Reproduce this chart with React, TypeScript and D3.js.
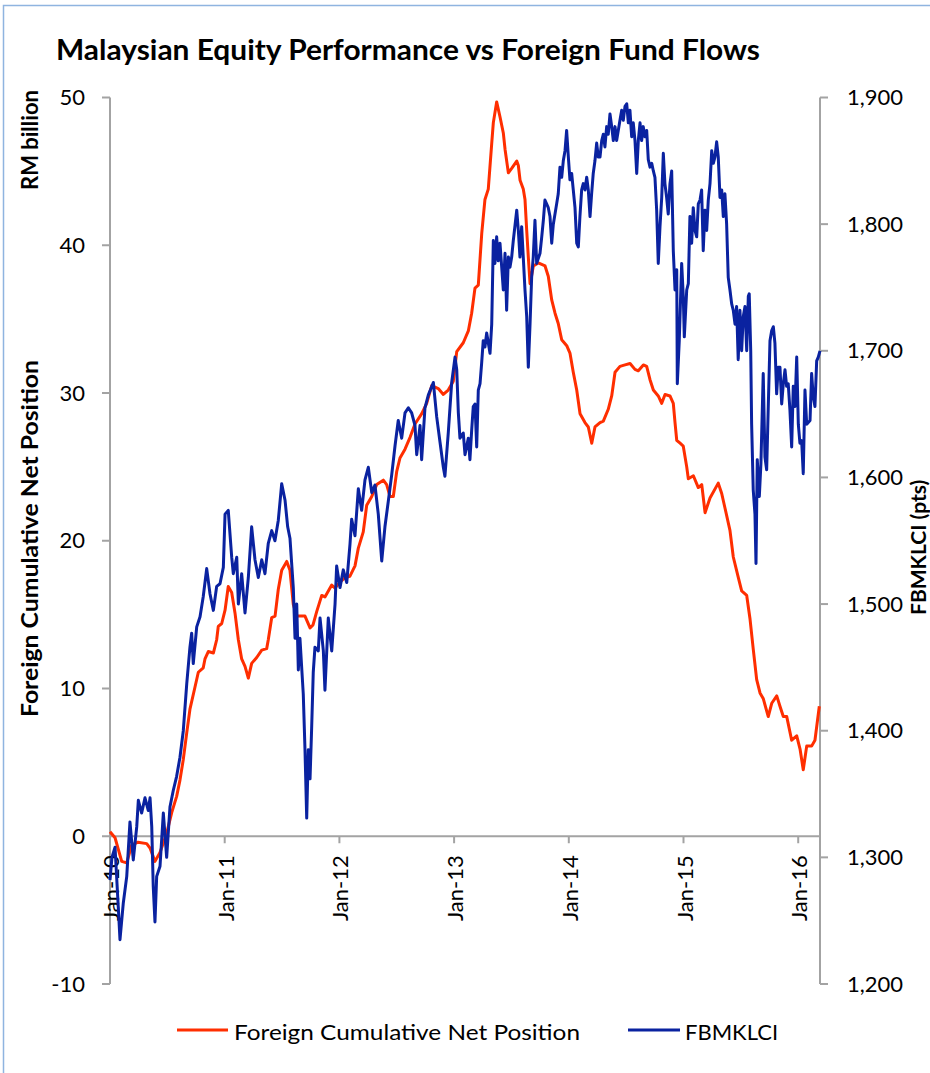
import React from "react";
import * as d3 from "d3";

// ---------- text ----------
const chartTitle = "Malaysian Equity Performance vs Foreign Fund Flows";
const leftTitleMain = "Foreign Cumulative Net Position";
const leftTitleUnit = "RM billion";
const rightTitle = "FBMKLCI (pts)";
const redName = "Foreign Cumulative Net Position";
const blueName = "FBMKLCI";

// ---------- axes ----------
const leftTicks = [-10, 0, 10, 20, 30, 40, 50];
const rightTicks = [1200, 1300, 1400, 1500, 1600, 1700, 1800, 1900];
const yearTicks = [2010, 2011, 2012, 2013, 2014, 2015, 2016];
const xDomain = [2010, 2016.19];

// ---------- data: [decimal year, RM billion] ----------
const flow2010 = [[2010.000,0.3],[2010.044,-0.1],[2010.102,-1.7],[2010.146,-1.8],[2010.189,-0.6],[2010.244,-0.4],[2010.320,-0.5],[2010.349,-0.8],[2010.392,-1.7],[2010.436,-1.1],[2010.494,0.2],[2010.538,1.6],[2010.581,2.7],[2010.610,3.8],[2010.639,5.2],[2010.669,7.0],[2010.697,8.6],[2010.741,10.1],[2010.770,11.1],[2010.813,11.4],[2010.828,12.0],[2010.857,12.5],[2010.901,12.4],[2010.930,13.3],[2010.944,14.2],[2010.974,14.4]];
const flow2011 = [[2011.003,15.3],[2011.031,16.9],[2011.061,16.5],[2011.090,15.1],[2011.119,13.3],[2011.148,12.0],[2011.177,11.5],[2011.206,10.7],[2011.235,11.7],[2011.279,12.1],[2011.323,12.6],[2011.366,12.7],[2011.380,13.3],[2011.410,14.8],[2011.439,14.9],[2011.467,16.7],[2011.497,18.0],[2011.541,18.6],[2011.569,18.0],[2011.598,15.7],[2011.628,14.9],[2011.700,14.9],[2011.744,14.1],[2011.770,14.3],[2011.802,15.2],[2011.846,16.3],[2011.874,16.2],[2011.933,17.0],[2011.962,16.8]];
const flow2012 = [[2012.005,17.2],[2012.049,17.5],[2012.092,17.6],[2012.136,18.3],[2012.165,19.5],[2012.208,20.6],[2012.238,22.4],[2012.282,23.0],[2012.325,23.8],[2012.383,24.1],[2012.412,23.8],[2012.441,23.0],[2012.470,23.0],[2012.500,24.7],[2012.528,25.6],[2012.572,26.2],[2012.616,27.0],[2012.659,27.9],[2012.718,28.6],[2012.761,29.3],[2012.805,30.5],[2012.862,30.3],[2012.906,29.9],[2012.949,30.2],[2012.993,30.8]];
const flow2013 = [[2013.023,32.8],[2013.080,33.4],[2013.124,34.2],[2013.153,35.4],[2013.182,37.1],[2013.211,37.3],[2013.241,40.8],[2013.269,43.1],[2013.298,43.8],[2013.328,46.9],[2013.342,48.3],[2013.371,49.7],[2013.400,48.7],[2013.429,47.6],[2013.444,46.5],[2013.473,44.9],[2013.502,45.2],[2013.546,45.7],[2013.560,45.4],[2013.575,44.4],[2013.603,43.8],[2013.618,43.1],[2013.633,41.0],[2013.647,39.2],[2013.662,37.4],[2013.691,38.6],[2013.734,38.8],[2013.793,38.6],[2013.821,37.9],[2013.851,36.3],[2013.880,35.4],[2013.908,34.7],[2013.938,33.6],[2013.982,33.2]];
const flow2014 = [[2014.010,32.7],[2014.039,31.4],[2014.069,30.2],[2014.098,28.6],[2014.141,28.0],[2014.170,27.7],[2014.200,26.6],[2014.228,27.7],[2014.272,28.0],[2014.301,28.1],[2014.344,28.9],[2014.374,29.8],[2014.403,31.4],[2014.446,31.8],[2014.490,31.9],[2014.534,32.0],[2014.577,31.6],[2014.606,31.5],[2014.650,31.9],[2014.679,31.8],[2014.708,30.9],[2014.737,30.2],[2014.780,29.8],[2014.810,29.3],[2014.839,29.9],[2014.882,29.8],[2014.911,29.3],[2014.926,28.0],[2014.941,26.8],[2014.970,26.6],[2014.998,26.4]];
const flow2015 = [[2015.028,25.0],[2015.042,24.2],[2015.086,24.4],[2015.129,23.6],[2015.159,23.8],[2015.188,21.9],[2015.231,22.9],[2015.303,23.9],[2015.333,23.2],[2015.362,22.2],[2015.405,20.7],[2015.434,18.9],[2015.478,17.5],[2015.507,16.6],[2015.551,16.3],[2015.580,14.7],[2015.609,12.6],[2015.638,10.6],[2015.667,9.7],[2015.696,9.3],[2015.739,8.1],[2015.769,9.0],[2015.813,9.5],[2015.841,8.8],[2015.870,8.1],[2015.900,8.1],[2015.943,6.5],[2015.987,6.8]];
const flow2016 = [[2016.016,5.9],[2016.044,4.5],[2016.074,6.1],[2016.117,6.1],[2016.146,6.5],[2016.184,8.8]];

// ---------- data: [decimal year, FBMKLCI pts] ----------
const klci2010 = [[2010.000,1282],[2010.017,1300],[2010.044,1308],[2010.072,1261],[2010.087,1235],[2010.116,1264],[2010.146,1285],[2010.174,1328],[2010.203,1298],[2010.233,1324],[2010.247,1345],[2010.276,1335],[2010.305,1347],[2010.334,1337],[2010.349,1347],[2010.364,1324],[2010.377,1277],[2010.392,1249],[2010.407,1285],[2010.436,1293],[2010.465,1335],[2010.494,1300],[2010.523,1340],[2010.552,1353],[2010.581,1364],[2010.610,1379],[2010.639,1400],[2010.669,1437],[2010.697,1466],[2010.712,1477],[2010.726,1453],[2010.756,1482],[2010.785,1490],[2010.813,1506],[2010.843,1528],[2010.872,1508],[2010.901,1495],[2010.930,1514],[2010.959,1516],[2010.988,1529]];
const klci2011 = [[2011.003,1571],[2011.031,1574],[2011.061,1537],[2011.075,1524],[2011.105,1537],[2011.119,1500],[2011.148,1524],[2011.177,1493],[2011.206,1521],[2011.235,1561],[2011.264,1535],[2011.293,1521],[2011.323,1535],[2011.351,1524],[2011.380,1548],[2011.410,1558],[2011.438,1550],[2011.467,1566],[2011.497,1595],[2011.526,1582],[2011.549,1561],[2011.569,1552],[2011.598,1513],[2011.613,1473],[2011.628,1500],[2011.642,1448],[2011.656,1473],[2011.685,1429],[2011.700,1385],[2011.715,1331],[2011.729,1385],[2011.744,1362],[2011.758,1402],[2011.772,1446],[2011.787,1466],[2011.816,1463],[2011.831,1489],[2011.860,1463],[2011.874,1432],[2011.903,1489],[2011.933,1463],[2011.962,1500],[2011.976,1530]];
const klci2012 = [[2012.005,1513],[2012.034,1527],[2012.064,1517],[2012.092,1547],[2012.107,1567],[2012.136,1554],[2012.165,1591],[2012.194,1574],[2012.223,1598],[2012.252,1608],[2012.282,1588],[2012.310,1594],[2012.339,1571],[2012.369,1534],[2012.397,1561],[2012.426,1581],[2012.456,1602],[2012.485,1625],[2012.513,1645],[2012.543,1631],[2012.572,1651],[2012.601,1655],[2012.630,1651],[2012.659,1641],[2012.674,1618],[2012.703,1641],[2012.717,1614],[2012.746,1655],[2012.775,1665],[2012.819,1675],[2012.848,1648],[2012.877,1628],[2012.906,1608],[2012.920,1601],[2012.949,1635],[2012.979,1675]];
const klci2013 = [[2013.008,1695],[2013.023,1685],[2013.037,1651],[2013.051,1631],[2013.080,1635],[2013.095,1618],[2013.124,1631],[2013.138,1614],[2013.153,1637],[2013.167,1656],[2013.182,1658],[2013.197,1624],[2013.211,1669],[2013.226,1674],[2013.240,1690],[2013.254,1708],[2013.269,1703],[2013.284,1714],[2013.313,1698],[2013.328,1721],[2013.342,1787],[2013.356,1769],[2013.371,1790],[2013.385,1771],[2013.400,1785],[2013.415,1766],[2013.429,1748],[2013.444,1777],[2013.458,1732],[2013.473,1774],[2013.487,1766],[2013.502,1774],[2013.516,1787],[2013.546,1811],[2013.560,1795],[2013.574,1774],[2013.589,1798],[2013.603,1774],[2013.618,1748],[2013.633,1727],[2013.647,1687],[2013.662,1721],[2013.676,1758],[2013.690,1774],[2013.705,1803],[2013.720,1769],[2013.749,1777],[2013.764,1790],[2013.778,1803],[2013.792,1819],[2013.821,1813],[2013.836,1806],[2013.851,1785],[2013.865,1800],[2013.894,1816],[2013.908,1824],[2013.923,1845],[2013.938,1837],[2013.952,1850],[2013.967,1858],[2013.981,1874],[2013.996,1853]];
const klci2014 = [[2014.010,1835],[2014.025,1840],[2014.039,1827],[2014.054,1813],[2014.069,1785],[2014.083,1782],[2014.097,1806],[2014.112,1827],[2014.126,1832],[2014.141,1827],[2014.156,1837],[2014.170,1827],[2014.185,1806],[2014.199,1824],[2014.213,1840],[2014.228,1850],[2014.243,1864],[2014.257,1853],[2014.272,1853],[2014.287,1866],[2014.301,1871],[2014.315,1861],[2014.330,1877],[2014.344,1871],[2014.359,1887],[2014.374,1877],[2014.388,1866],[2014.403,1877],[2014.417,1866],[2014.446,1882],[2014.461,1890],[2014.475,1882],[2014.490,1893],[2014.505,1895],[2014.519,1880],[2014.533,1890],[2014.548,1869],[2014.562,1880],[2014.577,1866],[2014.592,1840],[2014.606,1866],[2014.621,1880],[2014.635,1866],[2014.649,1877],[2014.664,1869],[2014.679,1874],[2014.693,1851],[2014.708,1845],[2014.723,1848],[2014.737,1842],[2014.751,1837],[2014.766,1811],[2014.780,1769],[2014.795,1798],[2014.810,1821],[2014.824,1856],[2014.838,1832],[2014.853,1821],[2014.867,1808],[2014.882,1832],[2014.897,1842],[2014.911,1779],[2014.926,1748],[2014.941,1764],[2014.946,1674],[2014.963,1708],[2014.984,1769],[2014.998,1743]];
const klci2015 = [[2015.007,1711],[2015.028,1748],[2015.042,1753],[2015.056,1806],[2015.071,1785],[2015.085,1813],[2015.100,1795],[2015.115,1790],[2015.129,1816],[2015.144,1819],[2015.158,1827],[2015.172,1779],[2015.187,1811],[2015.202,1795],[2015.216,1819],[2015.231,1832],[2015.246,1858],[2015.260,1848],[2015.274,1853],[2015.289,1865],[2015.303,1853],[2015.318,1821],[2015.333,1827],[2015.347,1806],[2015.361,1824],[2015.376,1800],[2015.390,1758],[2015.405,1748],[2015.420,1737],[2015.434,1732],[2015.449,1721],[2015.463,1735],[2015.477,1693],[2015.492,1732],[2015.507,1700],[2015.521,1727],[2015.536,1735],[2015.551,1700],[2015.565,1743],[2015.573,1745],[2015.586,1700],[2015.594,1642],[2015.608,1590],[2015.623,1571],[2015.632,1532],[2015.643,1614],[2015.661,1585],[2015.675,1611],[2015.695,1682],[2015.710,1616],[2015.725,1606],[2015.739,1656],[2015.754,1708],[2015.769,1716],[2015.783,1719],[2015.797,1706],[2015.812,1666],[2015.826,1687],[2015.841,1687],[2015.856,1658],[2015.870,1674],[2015.885,1685],[2015.899,1672],[2015.913,1674],[2015.928,1653],[2015.943,1624],[2015.957,1672],[2015.972,1656],[2015.987,1695]];
const klci2016 = [[2016.001,1642],[2016.015,1627],[2016.030,1629],[2016.044,1603],[2016.059,1669],[2016.074,1642],[2016.103,1645],[2016.117,1682],[2016.131,1664],[2016.146,1656],[2016.161,1692],[2016.175,1695],[2016.190,1700]];

const flowSeries = [...flow2010, ...flow2011, ...flow2012, ...flow2013, ...flow2014, ...flow2015, ...flow2016];
const klciSeries = [...klci2010, ...klci2011, ...klci2012, ...klci2013, ...klci2014, ...klci2015, ...klci2016];

// ---------- style ----------
const RED = "#ff2e00";
const BLUE = "#0a22a0";
const AXIS = "#a3a3a3";
const FONT = "Lato, 'Open Sans', sans-serif";

export default function App() {
  const W = 930, H = 1073;
  const x = d3.scaleLinear().domain(xDomain).range([110, 820]);
  const yL = d3.scaleLinear().domain([-10, 50]).range([984, 97.5]);
  const yR = d3.scaleLinear().domain([1200, 1900]).range([984, 97.5]);

  const redLine = d3.line<number[]>().x(d => x(d[0])).y(d => yL(d[1]));
  const blueLine = d3.line<number[]>().x(d => x(d[0])).y(d => yR(d[1]));
  const fmt = d3.format(",");
  const y0 = yL(0);

  return (
    <svg width={W} height={H} style={{ position: "absolute", left: 0, top: 0, background: "#fff" }} fontFamily={FONT}>
      <rect x={3.5} y={5.5} width={1200} height={2000} fill="#fff" stroke="#8fb4e0" strokeWidth={1.5} />

      <text x={56} y={60} fontSize={28} fontWeight="bold" fill="#000" textLength={704} lengthAdjust="spacingAndGlyphs">{chartTitle}</text>

      {/* left axis */}
      <line x1={110} x2={110} y1={yL(-10)} y2={yL(50)} stroke={AXIS} strokeWidth={2} />
      {leftTicks.map(t => (
        <g key={"l" + t}>
          <line x1={102} x2={110} y1={yL(t)} y2={yL(t)} stroke={AXIS} strokeWidth={2} />
          <text x={85} y={yL(t)} dy="0.35em" textAnchor="end" fontSize={22} fill="#000">{t}</text>
        </g>
      ))}

      {/* right axis */}
      <line x1={820} x2={820} y1={yR(1200)} y2={yR(1900)} stroke={AXIS} strokeWidth={2} />
      {rightTicks.map(t => (
        <g key={"r" + t}>
          <line x1={820} x2={828} y1={yR(t)} y2={yR(t)} stroke={AXIS} strokeWidth={2} />
          <text x={847} y={yR(t)} dy="0.35em" textAnchor="start" fontSize={22} fill="#000">{fmt(t)}</text>
        </g>
      ))}

      {/* x axis at zero */}
      <line x1={110} x2={820} y1={y0} y2={y0} stroke={AXIS} strokeWidth={2} />
      {yearTicks.map(t => (
        <g key={"x" + t}>
          <line x1={x(t)} x2={x(t)} y1={y0} y2={y0 + 7} stroke={AXIS} strokeWidth={2} />
          <text transform={`translate(${x(t) + 9},${y0 + 19}) rotate(-90)`} textAnchor="end" fontSize={22} fill="#000">{"Jan-" + String(t).slice(2)}</text>
        </g>
      ))}

      {/* axis titles */}
      <text transform="translate(38,717) rotate(-90)" textAnchor="start" fontSize={22} fontWeight="bold" fill="#000" textLength={357} lengthAdjust="spacingAndGlyphs">{leftTitleMain}</text>
      <text transform="translate(38,190) rotate(-90)" textAnchor="start" fontSize={22} fontWeight="bold" fill="#000">{leftTitleUnit}</text>
      <text transform="translate(926,615) rotate(-90)" textAnchor="start" fontSize={21} fontWeight="bold" fill="#000">{rightTitle}</text>

      {/* series */}
      <path d={redLine(flowSeries) || ""} fill="none" stroke={RED} strokeWidth={3} strokeLinejoin="round" />
      <path d={blueLine(klciSeries) || ""} fill="none" stroke={BLUE} strokeWidth={3} strokeLinejoin="round" />

      {/* legend */}
      <line x1={177} x2={228} y1={1030} y2={1030} stroke={RED} strokeWidth={3} />
      <text x={234} y={1040} fontSize={22} fill="#000" textLength={346} lengthAdjust="spacingAndGlyphs">{redName}</text>
      <line x1={628} x2={680} y1={1030} y2={1030} stroke={BLUE} strokeWidth={3} />
      <text x={685} y={1040} fontSize={22} fill="#000">{blueName}</text>
    </svg>
  );
}
